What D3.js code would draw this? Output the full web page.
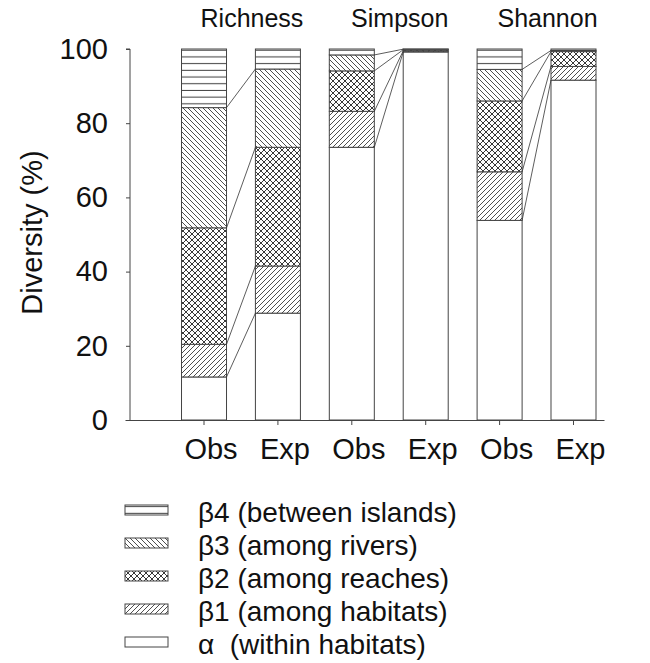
<!DOCTYPE html>
<html>
<head>
<meta charset="utf-8">
<script src="https://cdn.jsdelivr.net/npm/d3@7"></script>
<style>
  body { margin: 0; background: #fff; }
  text { font-family: "Liberation Sans", Arial, sans-serif; fill: #111; }
</style>
</head>
<body>
<script>
// data (percent of total diversity)
const groups = ['Richness', 'Simpson', 'Shannon']
const kinds = ['Obs', 'Exp']
const components = ['alpha', 'beta1', 'beta2', 'beta3', 'beta4']
const componentLabels = ['α  (within habitats)', 'β1 (among habitats)', 'β2 (among reaches)',
    'β3 (among rivers)', 'β4 (between islands)']
// one value per bar: Richness Obs, Richness Exp, Simpson Obs, Simpson Exp, Shannon Obs, Shannon Exp
const alpha = [11.6, 28.8, 73.5, 99.2, 53.8, 91.6]
const beta1 = [8.8, 12.7, 9.7, 0.3, 13.1, 3.7]
const beta2 = [31.4, 32.0, 10.9, 0.3, 19.1, 4.0]
const beta3 = [32.4, 21.1, 4.3, 0.15, 8.5, 0.3]
const beta4 = [15.8, 5.4, 1.6, 0.05, 5.5, 0.4]
const yTicks = [0, 20, 40, 60, 80, 100]

// measurements
const m = { width: 650, height: 663, left: 130, top: 49, bottom: 420 }

const svg = d3.select('body').append('svg')
    .attr('width', m.width)
    .attr('height', m.height)

// build table of rows
const series = [alpha, beta1, beta2, beta3, beta4]
const rows = []
groups.forEach((g, gi) => kinds.forEach((k, ki) => {
    const i = gi * 2 + ki
    const row = { key: g + '-' + k, group: g, kind: k }
    components.forEach((c, ci) => row[c] = series[ci][i])
    rows.push(row)
}))
const stacked = d3.stack().keys(components)(rows)

// scales
const xScale = d3.scaleBand()
    .domain(rows.map(d => d.key))
    .range([125, 604])
    .paddingInner(0.391)
    .paddingOuter(0.4365)
    .align(0.876)
const bw = xScale.bandwidth()

const yScale = d3.scaleLinear()
    .domain([0, 100])
    .range([m.bottom, m.top])

// hatch patterns
const defs = svg.append('defs')
const ink = '#222'
function pattern(id, size, d, sw) {
    const p = defs.append('pattern')
        .attr('id', id)
        .attr('patternUnits', 'userSpaceOnUse')
        .attr('width', size)
        .attr('height', size)
    p.append('rect').attr('width', size).attr('height', size).attr('fill', '#fff')
    if (d) p.append('path').attr('d', d).attr('stroke', ink).attr('stroke-width', sw).attr('fill', 'none')
}
pattern('p-alpha', 5, null, 0)
pattern('p-beta1', 5, 'M0,5L5,0M-1,1L1,-1M4,6L6,4', 0.8)
pattern('p-beta2', 6, 'M0,0L6,6M-1,5L1,7M5,-1L7,1M0,6L6,0M-1,1L1,-1M5,7L7,5', 0.9)
pattern('p-beta3', 5, 'M0,0L5,5M-1,4L1,6M4,-1L6,1', 0.8)
defs.append('pattern')
    .attr('id', 'p-beta4')
    .attr('patternUnits', 'userSpaceOnUse')
    .attr('width', 10)
    .attr('height', 6.7)
    .call(p => {
        p.append('rect').attr('width', 10).attr('height', 6.7).attr('fill', '#fff')
        p.append('line').attr('x1', 0).attr('x2', 10).attr('y1', 3.3).attr('y2', 3.3)
            .attr('stroke', ink).attr('stroke-width', 0.9)
    })

// axes
const yAxis = d3.axisLeft(yScale).tickValues(yTicks).tickSize(4).tickPadding(18)
svg.append('g')
    .attr('transform', `translate(${m.left},0)`)
    .call(yAxis)
    .call(g => g.select('.domain').attr('d', `M-4,${yScale(100)}H0V${yScale(0)}`))
    .call(g => g.selectAll('text').attr('font-size', 29).attr('font-family', '"Liberation Sans", Arial, sans-serif'))
    .call(g => g.selectAll('line, path').attr('stroke', '#444'))

const xAxis = d3.axisBottom(xScale).tickSize(5).tickSizeOuter(0).tickPadding(13)
    .tickFormat(d => d.split('-')[1])
svg.append('g')
    .attr('transform', `translate(0,${m.bottom})`)
    .call(xAxis)
    .call(g => g.selectAll('text').attr('font-size', 29).attr('dx', 7)
        .attr('font-family', '"Liberation Sans", Arial, sans-serif'))
    .call(g => g.selectAll('line, path').attr('stroke', '#444'))

// stacked bars
svg.append('g').selectAll('g')
    .data(stacked)
    .join('g')
    .attr('fill', d => `url(#p-${d.key})`)
    .selectAll('rect')
    .data(d => d)
    .join('rect')
    .attr('x', d => xScale(d.data.key))
    .attr('y', d => yScale(d[1]))
    .attr('width', bw)
    .attr('height', d => yScale(d[0]) - yScale(d[1]))
    .attr('stroke', '#444')
    .attr('stroke-width', 1)

// connecting lines between Obs and Exp at each boundary
const links = []
groups.forEach(g => {
    const obs = rows.find(r => r.group === g && r.kind === 'Obs')
    const exp = rows.find(r => r.group === g && r.kind === 'Exp')
    let co = 0, ce = 0
    components.slice(0, 4).forEach(c => {
        co += obs[c]; ce += exp[c]
        links.push({ x1: xScale(obs.key) + bw, y1: co, x2: xScale(exp.key), y2: ce })
    })
})
svg.append('g').selectAll('line')
    .data(links)
    .join('line')
    .attr('x1', d => d.x1)
    .attr('y1', d => yScale(d.y1))
    .attr('x2', d => d.x2)
    .attr('y2', d => yScale(d.y2))
    .attr('stroke', '#333')
    .attr('stroke-width', 0.8)

// group titles
svg.append('g').selectAll('text')
    .data(groups)
    .join('text')
    .attr('x', g => (xScale(g + '-Obs') + xScale(g + '-Exp') + bw) / 2 + 11)
    .attr('y', 27)
    .attr('text-anchor', 'middle')
    .attr('font-size', 25)
    .text(g => g)

// y label
svg.append('text')
    .attr('transform', `translate(42, ${(m.top + m.bottom) / 2 - 2})rotate(-90)`)
    .attr('text-anchor', 'middle')
    .attr('font-size', 29)
    .text('Diversity (%)')

// legend, top row is beta4
const legendKeys = components.slice().reverse()
const legend = svg.append('g').selectAll('g')
    .data(legendKeys)
    .join('g')
    .attr('transform', (d, i) => `translate(125, ${510 + i * 33})`)
legend.append('rect')
    .attr('x', 0)
    .attr('y', -5)
    .attr('width', 43)
    .attr('height', 10)
    .attr('fill', d => `url(#p-${d})`)
    .attr('stroke', '#444')
legend.append('text')
    .attr('x', 73)
    .attr('y', 12)
    .attr('font-size', 28)
    .style('white-space', 'pre')
    .text(d => componentLabels[components.indexOf(d)])
</script>
</body>
</html>
